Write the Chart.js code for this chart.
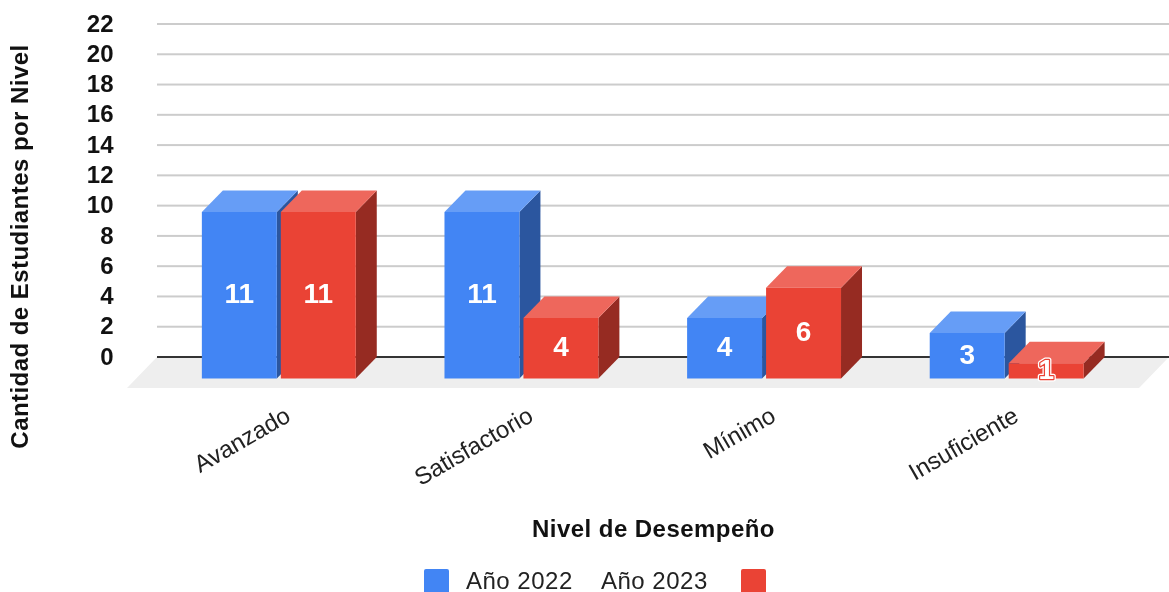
<!DOCTYPE html>
<html>
<head>
<meta charset="utf-8">
<style>
  html, body { margin: 0; padding: 0; background: #fff; overflow: hidden; }
  canvas { display: block; }
</style>
<script src="https://cdn.jsdelivr.net/npm/chart.js@4"></script>
</head>
<body>
<canvas id="barChart" width="1169" height="592"></canvas>
<script>
const categorias = ["Avanzado", "Satisfactorio", "Mínimo", "Insuficiente"];
const anio2022 = [11, 11, 4, 3];
const anio2023 = [11, 4, 6, 1];
const ticksY = [0, 2, 4, 6, 8, 10, 12, 14, 16, 18, 20, 22];
const tituloX = "Nivel de Desempeño";
const tituloY = "Cantidad de Estudiantes por Nivel";
const FONT = '"Liberation Sans", Arial, sans-serif';

// depth of the fake 3D box, front face is pushed down-left from the back
const dx = 21;
const dy = 21.5;

const colores = [
    { front: '#4285F4', top: '#669DF6', side: '#2B569F' },
    { front: '#EA4335', top: '#EE675C', side: '#962B22' }
];

function poly(ctx, color, pts) {
    ctx.fillStyle = color;
    ctx.beginPath();
    pts.forEach((p, i) => i ? ctx.lineTo(p[0], p[1]) : ctx.moveTo(p[0], p[1]));
    ctx.closePath();
    ctx.fill();
}

const fake3d = {
    id: 'fake3d',
    beforeDatasetsDraw(chart) {
        const { ctx, scales: { y } } = chart;
        const zero = y.getPixelForValue(0);
        // floor
        poly(ctx, '#EEEEEE', [[157, zero], [1169, zero], [1139, zero + 31], [127, zero + 31]]);
        // gridlines are longer than the category area
        ticksY.forEach(v => {
            ctx.fillStyle = v === 0 ? '#333333' : '#CCCCCC';
            ctx.fillRect(157, y.getPixelForValue(v) - 1, 1012, 2);
        });
    },
    // chart.js paints the last dataset first, here red has to go over blue
    beforeDatasetDraw() {
        return false;
    },
    afterDatasetsDraw(chart) {
        const { ctx } = chart;
        chart.data.datasets.forEach((ds, i) => {
            const meta = chart.getDatasetMeta(i);
            const c = colores[i];
            meta.data.forEach(bar => {
                const l = bar.x - bar.width / 2;
                const r = bar.x + bar.width / 2;
                poly(ctx, c.side, [[r, bar.y], [r, bar.base], [r - dx, bar.base + dy], [r - dx, bar.y + dy]]);
                poly(ctx, c.top, [[l, bar.y], [r, bar.y], [r - dx, bar.y + dy], [l - dx, bar.y + dy]]);
            });
            ctx.save();
            ctx.translate(-dx, dy);
            meta.controller.draw();
            ctx.restore();
        });

        ctx.save();
        ctx.textAlign = 'center';
        ctx.textBaseline = 'middle';
        ctx.font = 'bold 28px ' + FONT;
        ctx.lineJoin = 'round';
        chart.data.datasets.forEach((ds, i) => {
            chart.getDatasetMeta(i).data.forEach((bar, j) => {
                const tx = bar.x - dx;
                const ty = (bar.y + bar.base) / 2 + dy;
                if (bar.base - bar.y < 24) {
                    ctx.strokeStyle = '#FFFFFF';
                    ctx.lineWidth = 5;
                    ctx.strokeText(ds.data[j], tx, ty);
                }
                ctx.strokeStyle = colores[i].front;
                ctx.lineWidth = 2.5;
                ctx.strokeText(ds.data[j], tx, ty);
                ctx.fillStyle = '#FFFFFF';
                ctx.fillText(ds.data[j], tx, ty);
            });
        });
        ctx.restore();
    },
    afterDraw(chart) {
        const { ctx } = chart;
        const ds = chart.data.datasets;
        ctx.save();
        // axis titles, they are off-centre from the plot area in the original
        ctx.fillStyle = '#111111';
        ctx.textAlign = 'center';
        ctx.textBaseline = 'middle';
        ctx.font = 'bold 24px ' + FONT;
        ctx.letterSpacing = '0.45px';
        ctx.fillText(tituloX, 653.5, 530);
        ctx.save();
        ctx.translate(21, 246.5);
        ctx.rotate(-Math.PI / 2);
        ctx.fillText(tituloY, 0, 0);
        ctx.restore();
        // legend, red swatch sits after its label in the original
        ctx.fillStyle = colores[0].front;
        ctx.beginPath(); ctx.roundRect(424, 569, 25, 25, 2); ctx.fill();
        ctx.fillStyle = colores[1].front;
        ctx.beginPath(); ctx.roundRect(741, 569, 25, 25, 2); ctx.fill();
        ctx.fillStyle = '#222222';
        ctx.textAlign = 'left';
        ctx.textBaseline = 'alphabetic';
        ctx.font = '24px ' + FONT;
        ctx.letterSpacing = '0.5px';
        ctx.fillText(ds[0].label, 466, 589);
        ctx.fillText(ds[1].label, 601, 589);
        ctx.restore();
    }
};

new Chart(document.getElementById('barChart').getContext('2d'), {
    type: 'bar',
    data: {
        labels: categorias,
        datasets: [
            { label: 'Año 2022', data: anio2022, backgroundColor: colores[0].front, clip: false },
            { label: 'Año 2023', data: anio2023, backgroundColor: colores[1].front, clip: false }
        ]
    },
    options: {
        responsive: false,
        animation: false,
        categoryPercentage: 0.651,
        barPercentage: 0.949,
        layout: { padding: { top: 24, right: 20, left: 0, bottom: 0 } },
        scales: {
            x: {
                grid: { display: false },
                border: { display: false },
                afterFit(scale) { scale.height = 235; },
                ticks: {
                    minRotation: 30,
                    maxRotation: 30,
                    autoSkip: false,
                    padding: 37,
                    labelOffset: -11,
                    color: '#222222',
                    font: { family: FONT, size: 24 }
                }
            },
            y: {
                min: 0,
                max: 22,
                grid: { display: false },
                border: { display: false },
                afterFit(scale) {
                    scale.width = 178.5;
                    // tick padding also ends up in the vertical margins
                    scale.paddingTop = 0;
                    scale.paddingBottom = 0;
                },
                ticks: {
                    stepSize: 2,
                    autoSkip: false,
                    padding: 57,
                    labelOffset: 1,
                    color: '#111111',
                    font: { family: FONT, size: 24, weight: 'bold' }
                }
            }
        },
        plugins: {
            legend: { display: false },
            tooltip: { enabled: false }
        }
    },
    plugins: [fake3d]
});
</script>
</body>
</html>
